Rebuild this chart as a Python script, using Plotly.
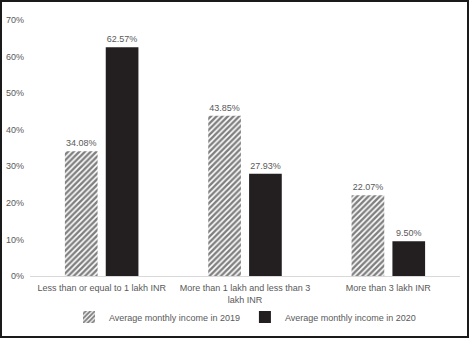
import plotly.graph_objects as go

categories = ["Less than or equal to 1 lakh INR",
              "More than 1 lakh and less than 3<br>lakh INR",
              "More than 3 lakh INR"]
income_2019 = [34.08, 43.85, 22.07]
income_2020 = [62.57, 27.93, 9.50]
tick_vals = [0, 10, 20, 30, 40, 50, 60, 70]
tick_text = ["0%", "10%", "20%", "30%", "40%", "50%", "60%", "70%"]

W, H = 469, 338
L, R, T, B = 30, 9, 20, 62
pw, ph = W - L - R, H - T - B

fig = go.Figure()
fig.add_trace(go.Bar(
    x=categories, y=income_2019, name="Average monthly income in 2019",
    marker=dict(color="white", line=dict(width=0),
                pattern=dict(shape="/", fgcolor="#000000", bgcolor="white", size=4, solidity=0.6)),
    text=[f"{v:.2f}%" for v in income_2019], textposition="outside",
    textfont=dict(size=9, color="#595959"), cliponaxis=False,
))
fig.add_trace(go.Bar(
    x=categories, y=income_2020, name="Average monthly income in 2020",
    marker=dict(color="#231f20", line=dict(width=0)),
    text=[f"{v:.2f}%" for v in income_2020], textposition="outside",
    textfont=dict(size=9, color="#595959"), cliponaxis=False,
))

fig.update_layout(
    width=W, height=H,
    margin=dict(l=L, r=R, t=T, b=B, autoexpand=False),
    paper_bgcolor="white", plot_bgcolor="white",
    barmode="group", bargap=0.43, bargroupgap=0.2,
    font=dict(family="Liberation Sans, Arial, sans-serif", size=9, color="#595959"),
    showlegend=True,
    legend=dict(orientation="h", x=0.5, xanchor="center", y=(H - B - 317) / ph, yanchor="middle",
                bgcolor="rgba(0,0,0,0)",
                font=dict(size=9, color="#595959"), itemwidth=30,
                traceorder="normal"),
    xaxis=dict(showgrid=False, showline=True, linecolor="#d9d9d9", linewidth=1,
               ticks="", automargin=False, ticklabelstandoff=3,
               tickfont=dict(size=9, color="#595959")),
    yaxis=dict(range=[0, 70], tickvals=tick_vals, ticktext=tick_text,
               showgrid=False, showline=False, zeroline=False, ticks="", automargin=False,
               ticklabelstandoff=5, tickfont=dict(size=9, color="#595959")),
)

# outer border around the whole image
fig.add_shape(type="rect", xref="paper", yref="paper",
              x0=(1 - L) / pw, x1=(W - 1 - L) / pw,
              y0=((H - B) - (H - 1)) / ph, y1=((H - B) - 1) / ph,
              line=dict(color="#1a1a1a", width=2), fillcolor="rgba(0,0,0,0)", layer="above")

fig.write_html("out.html")
